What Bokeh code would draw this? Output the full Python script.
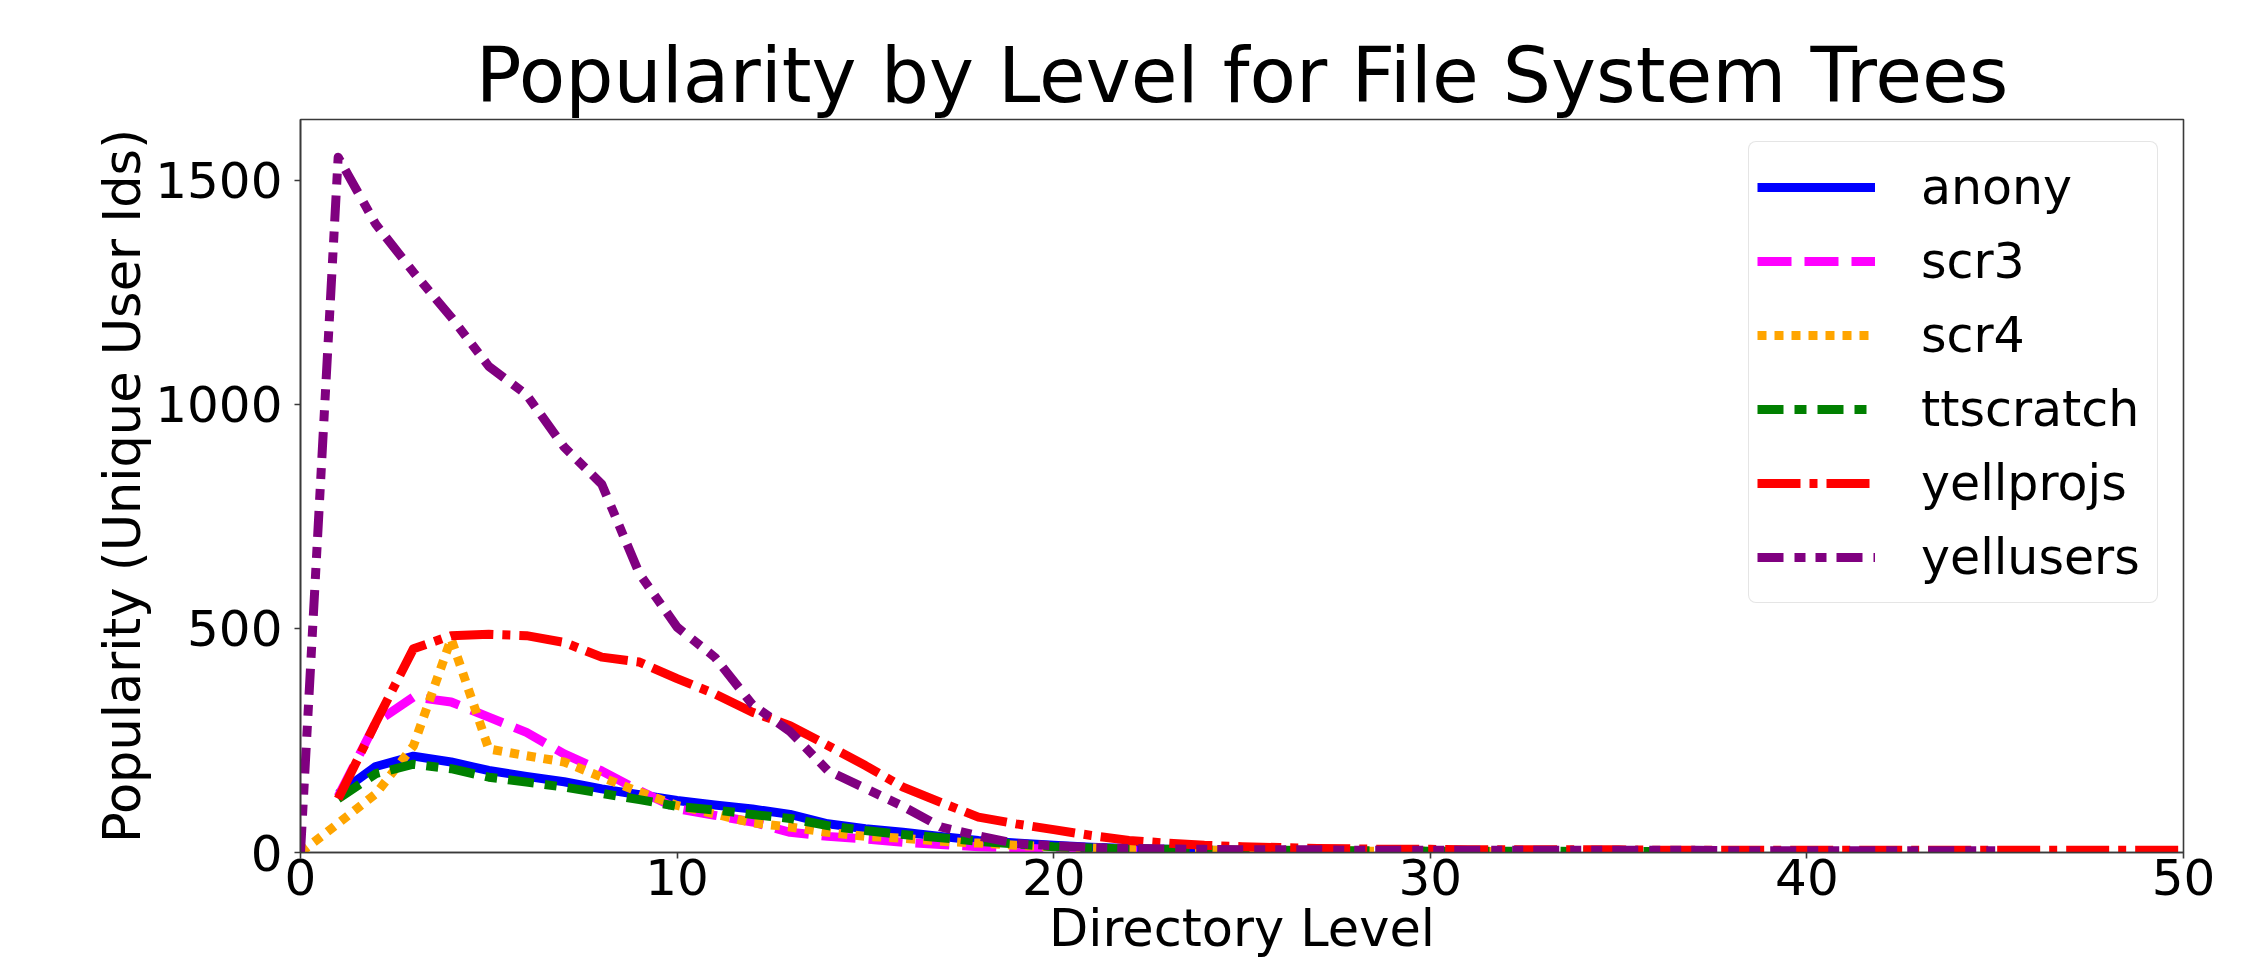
from bokeh.plotting import figure
from bokeh.models import Range1d, Legend, LegendItem, FixedTicker
from bokeh.embed import file_html
from bokeh.resources import INLINE

# ---------------- data ----------------
series_names = ["anony", "scr3", "scr4", "ttscratch", "yellprojs", "yellusers"]

anony_x = list(range(1, 28))
anony_y = [131, 192, 215, 202, 183, 170, 158, 142, 129, 116, 106, 97, 85, 64, 53,
           45, 36, 27, 21, 16, 12, 9, 7, 5, 4, 3, 2]

scr3_x = list(range(1, 24))
scr3_y = [125, 290, 347, 336, 302, 268, 220, 182, 138, 98, 83, 68, 45, 36, 30,
          23, 18, 13, 10, 7, 5, 4, 3]

scr4_x = list(range(0, 34))
scr4_y = [0, 65, 131, 238, 477, 231, 216, 202, 168, 135, 105, 86, 66, 57, 45,
          36, 32, 25, 21, 16, 13, 10, 8, 6, 5, 5, 4, 4, 3, 3, 3, 2, 2, 2]

ttscratch_x = list(range(1, 38))
ttscratch_y = [120, 176, 197, 187, 168, 157, 146, 132, 118, 103, 95, 85, 76, 60, 49,
               40, 33, 25, 19, 13, 10, 8, 7, 6, 5, 5, 4, 4, 4, 3, 3, 3, 3, 2, 2, 2, 2]

yellprojs_x = list(range(1, 51))
yellprojs_y = [120, 290, 455, 484, 487, 484, 469, 436, 425, 388, 354, 313, 283, 239, 194,
               146, 112, 79, 64, 51, 38, 27, 21, 16, 13, 11, 9, 8, 7, 7,
               6, 6, 6, 6, 6, 5, 5, 5, 5, 5, 5, 5, 5, 5, 5, 5, 5, 5, 5, 5]

yellusers_x = list(range(0, 46))
yellusers_y = [0, 1552, 1402, 1295, 1195, 1085, 1022, 905, 822, 622, 503, 436, 330, 270, 183,
               143, 103, 57, 37, 20, 15, 11, 9, 8, 7, 6, 6, 6, 5, 5,
               5, 5, 5, 5, 5, 5, 5, 5, 4, 4, 4, 4, 4, 4, 4, 4]

x_ticks = [0, 10, 20, 30, 40, 50]
y_ticks = [0, 500, 1000, 1500]

# ---------------- styles ----------------
FONT = "DejaVu Sans"
styles = {
    "anony": ("blue", "solid"),
    "scr3": ("magenta", "34 13"),
    "scr4": ("orange", "9 8"),
    "ttscratch": ("green", "26 11 12 11"),
    "yellprojs": ("red", "43 9 8 9"),
    "yellusers": ("purple", "26 11 11 10 11 10"),
}
data = {
    "anony": (anony_x, anony_y),
    "scr3": (scr3_x, scr3_y),
    "scr4": (scr4_x, scr4_y),
    "ttscratch": (ttscratch_x, ttscratch_y),
    "yellprojs": (yellprojs_x, yellprojs_y),
    "yellusers": (yellusers_x, yellusers_y),
}

p = figure(width=2247, height=961, output_backend="svg", toolbar_location=None,
           x_range=Range1d(0, 50), y_range=Range1d(0, 1636),
           min_border_left=300, min_border_right=64, min_border_top=119,
           min_border_bottom=109)

p.title.text = "Popularity by Level for File System Trees"
p.title.text_font = FONT
p.title.text_font_size = "76px"
p.title.text_font_style = "normal"
p.title.align = "center"
p.title.standoff = 0
p.title.text_color = "black"

p.xgrid.visible = False
p.ygrid.visible = False
p.outline_line_color = "#3a3a3a"
p.outline_line_width = 1.6
p.background_fill_color = "white"
p.border_fill_color = "white"

for ax in (p.xaxis[0], p.yaxis[0]):
    ax.axis_line_color = "#3a3a3a"
    ax.axis_line_width = 1.6
    ax.major_tick_line_color = "#3a3a3a"
    ax.major_tick_line_width = 1.6
    ax.major_tick_out = 6
    ax.major_tick_in = 0
    ax.minor_tick_out = 0
    ax.minor_tick_in = 0
    ax.major_label_text_font = FONT
    ax.major_label_text_font_size = "50px"
    ax.major_label_text_color = "black"
    ax.axis_label_text_font = FONT
    ax.axis_label_text_font_size = "51px"
    ax.axis_label_text_font_style = "normal"
    ax.axis_label_text_color = "black"
    ax.axis_label_text_line_height = 1.0

p.xaxis[0].ticker = FixedTicker(ticks=x_ticks)
p.yaxis[0].ticker = FixedTicker(ticks=y_ticks)
p.xaxis[0].major_label_standoff = 0
p.yaxis[0].major_label_standoff = 12

p.yaxis[0].axis_label = "Popularity (Unique User Ids)"
p.yaxis[0].axis_label_standoff = 0
p.xaxis[0].axis_label = "Directory Level"
p.xaxis[0].axis_label_standoff = 1

items = []
for name in series_names:
    xs, ys = data[name]
    color, dash = styles[name]
    r = p.line(xs, ys, line_color=color, line_width=9, line_dash=dash,
               line_join="round", line_cap="butt")
    items.append(LegendItem(label=name, renderers=[r]))

legend = Legend(items=items, location=(1448, 249),
                label_text_font=FONT, label_text_font_size="49px",
                label_text_color="black",
                glyph_width=118, glyph_height=74, label_height=74,
                label_width=228, label_standoff=46, spacing=0, padding=8,
                margin=0, border_line_color="#cccccc", border_line_width=1.6,
                border_radius=8,
                background_fill_color="white", background_fill_alpha=0.8)
p.add_layout(legend)

open("out.html", "w").write(file_html(p, INLINE))
